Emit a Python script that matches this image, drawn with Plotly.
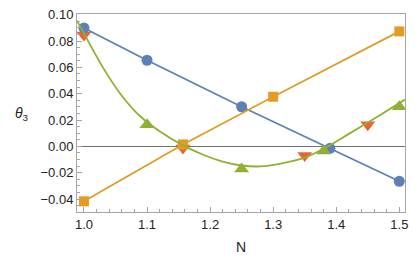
import plotly.graph_objects as go

# Blue circles (linear trend)
blue_x = [1.0, 1.1, 1.25, 1.39, 1.5]
blue_y = [0.0899, 0.0654, 0.0301, -0.0015, -0.0265]

# Orange squares (linear trend)
orange_x = [1.0, 1.157, 1.3, 1.5]
orange_y = [-0.0417, 0.0015, 0.0377, 0.0873]

# Green up-triangles
green_x = [1.1, 1.25, 1.38, 1.5]
green_y = [0.0164, -0.0171, -0.0035, 0.0300]

# Green fitted curve
curve_x = [0.989, 1.0, 1.03, 1.06, 1.09, 1.12, 1.157, 1.19, 1.22, 1.25,
           1.28, 1.31, 1.35, 1.383, 1.42, 1.46, 1.509]
curve_y = [0.0955, 0.0858, 0.0600, 0.0385, 0.0225, 0.0115, 0.0008, -0.0065,
           -0.0115, -0.0145, -0.0152, -0.0132, -0.0085, -0.0010, 0.0095,
           0.0210, 0.0355]

# Red down-triangles
red_x = [1.0, 1.157, 1.35, 1.45]
red_y = [0.0845, -0.0012, -0.0069, 0.0164]

x_ticks = [1.0, 1.1, 1.2, 1.3, 1.4, 1.5]
y_ticks = [-0.04, -0.02, 0.0, 0.02, 0.04, 0.06, 0.08, 0.10]

BLUE = "#5E81B5"
ORANGE = "#E19C24"
GREEN = "#8FB032"
RED = "#EB6235"
FONT = "Liberation Sans, Arial, sans-serif"

fig = go.Figure()
fig.add_trace(go.Scatter(x=red_x, y=red_y, mode="markers",
                         marker=dict(symbol="triangle-down", size=13, color=RED, line=dict(width=0))))
fig.add_trace(go.Scatter(x=blue_x, y=blue_y, mode="lines+markers",
                         line=dict(color=BLUE, width=1.8),
                         marker=dict(symbol="circle", size=11, color=BLUE, line=dict(width=0))))
fig.add_trace(go.Scatter(x=orange_x, y=orange_y, mode="lines+markers",
                         line=dict(color=ORANGE, width=1.8),
                         marker=dict(symbol="square", size=10, color=ORANGE, line=dict(width=0))))
fig.add_trace(go.Scatter(x=curve_x, y=curve_y, mode="lines",
                         line=dict(color=GREEN, width=1.8, shape="spline", smoothing=0.8)))
fig.add_trace(go.Scatter(x=green_x, y=green_y, mode="markers",
                         marker=dict(symbol="triangle-up", size=13, color=GREEN, line=dict(width=0))))

axis_common = dict(
    showgrid=False,
    showline=True, linecolor="#a6a6a6", linewidth=1, mirror=True,
    ticks="inside", ticklen=5, tickcolor="#a6a6a6", tickwidth=1,
    tickfont=dict(family=FONT, size=13, color="#222"),
)

W, H = 415, 260
L, R, T, B = 77, 9, 7, 48
pw = W - L - R
ph = H - T - B

fig.update_layout(
    width=W, height=H,
    margin=dict(l=L, r=R, t=T, b=B),
    paper_bgcolor="white", plot_bgcolor="white",
    showlegend=False,
    xaxis=dict(range=[0.989, 1.509], tickvals=x_ticks, tickformat=".1f",
               minor=dict(dtick=0.02, tick0=1.0, ticks="inside", ticklen=3, tickcolor="#a6a6a6"),
               zeroline=False, **axis_common),
    yaxis=dict(range=[-0.0498, 0.1005], tickvals=y_ticks, tickformat=".2f",
               minor=dict(dtick=0.005, tick0=0, ticks="inside", ticklen=3, tickcolor="#a6a6a6"),
               zeroline=True, zerolinecolor="#707070", zerolinewidth=1, **axis_common),
    annotations=[
        dict(text="<i>θ</i><sub>3</sub>", x=(22 - L) / pw, y=(H - B - 111) / ph,
             xref="paper", yref="paper", xanchor="center", yanchor="middle",
             showarrow=False, font=dict(family=FONT, size=14, color="#222")),
        dict(text="N", x=(242 - L) / pw, y=(H - B - 248) / ph,
             xref="paper", yref="paper", xanchor="center", yanchor="middle",
             showarrow=False, font=dict(family=FONT, size=14, color="#222")),
    ],
)

fig.write_html("out.html", config={"displayModeBar": False},
               post_script="document.body.style.margin='0';")
